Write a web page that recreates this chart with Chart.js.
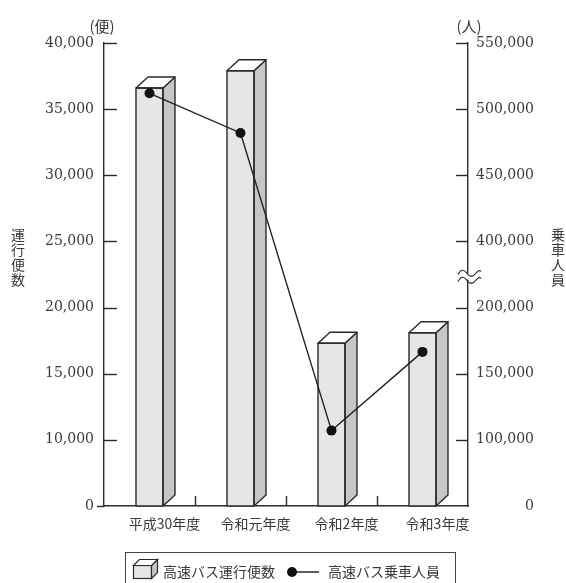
<!DOCTYPE html>
<html>
<head>
<meta charset="utf-8">
<script src="https://cdn.jsdelivr.net/npm/chart.js@4/dist/chart.umd.min.js"></script>
<style>
html,body{margin:0;padding:0;background:#fff;}
#wrap{position:relative;width:566px;height:583px;}
</style>
</head>
<body>
<div id="wrap"><canvas id="c" width="566" height="583"></canvas></div>
<script>
// ---- data ----
const categories = ['平成30年度', '令和元年度', '令和2年度', '令和3年度'];
const busTrips = [36600, 37900, 17300, 18100];          // 高速バス運行便数 (便)
const busRiders = [512000, 482000, 107000, 166500];     // 高速バス乗車人員 (人)
const leftTickValues = [5000, 10000, 15000, 20000, 25000, 30000, 35000, 40000];
const leftTickLabels = ['0', '10,000', '15,000', '20,000', '25,000', '30,000', '35,000', '40,000'];
const rightTickValues = [0, 100000, 150000, 200000, 400000, 450000, 500000, 550000];
const rightTickLabels = ['0', '100,000', '150,000', '200,000', '400,000', '450,000', '500,000', '550,000'];
const seriesNames = ['高速バス運行便数', '高速バス乗車人員'];

// map a rider value onto the broken right axis (index space)
function riderIndex(v) {
  for (let i = 0; i < rightTickValues.length - 1; i++) {
    const a = rightTickValues[i], b = rightTickValues[i + 1];
    if (v >= a && v <= b) return i + (v - a) / (b - a);
  }
  return rightTickValues.length - 1;
}

const INK = '#2a2a2a';
const TXT = '#3a3a3a';
const SERIF = '"DejaVu Serif", serif';
const JP = '"Noto Sans CJK JP", sans-serif';

const decor = {
  id: 'decor',
  afterDatasetDraw(chart, args) {
    if (args.meta.type !== 'bar') return;
    const ctx = chart.ctx;
    const dx = 12, dy = 11;
    ctx.save();
    ctx.lineWidth = 1.4;
    ctx.strokeStyle = INK;
    ctx.lineJoin = 'round';
    args.meta.data.forEach(el => {
      const p = el.getProps(['x', 'y', 'base', 'width'], true);
      const xl = p.x - p.width / 2, xr = p.x + p.width / 2;
      // side
      ctx.beginPath();
      ctx.moveTo(xr, p.y); ctx.lineTo(xr + dx, p.y - dy);
      ctx.lineTo(xr + dx, p.base - dy); ctx.lineTo(xr, p.base); ctx.closePath();
      ctx.fillStyle = '#c6c6c6'; ctx.fill(); ctx.stroke();
      // top
      ctx.beginPath();
      ctx.moveTo(xl, p.y); ctx.lineTo(xl + dx, p.y - dy);
      ctx.lineTo(xr + dx, p.y - dy); ctx.lineTo(xr, p.y); ctx.closePath();
      ctx.fillStyle = '#ffffff'; ctx.fill(); ctx.stroke();
      // front outline
      ctx.strokeRect(xl, p.y, p.width, p.base - p.y);
    });
    ctx.restore();
  },
  afterDraw(chart) {
    const ctx = chart.ctx;
    const ca = chart.chartArea;
    const y = chart.scales.y, y2 = chart.scales.y2, x = chart.scales.x;
    ctx.save();
    ctx.strokeStyle = INK;
    ctx.lineWidth = 1.4;
    // left ticks (inward)
    leftTickValues.forEach(v => {
      const py = Math.round(y.getPixelForValue(v)) + 0.5;
      ctx.beginPath();
      if (v === leftTickValues[0]) { ctx.moveTo(ca.left - 7, py); ctx.lineTo(ca.left, py); }
      else { ctx.moveTo(ca.left, py); ctx.lineTo(ca.left + 13, py); }
      ctx.stroke();
    });
    // right ticks (inward)
    rightTickValues.forEach((v, i) => {
      if (i === 0) return;
      const py = Math.round(y2.getPixelForValue(i)) + 0.5;
      ctx.beginPath(); ctx.moveTo(ca.right - 12, py); ctx.lineTo(ca.right, py); ctx.stroke();
    });
    // x boundary ticks
    for (let i = 0; i < categories.length - 1; i++) {
      const px = Math.round((x.getPixelForValue(i) + x.getPixelForValue(i + 1)) / 2) + 0.5;
      ctx.beginPath(); ctx.moveTo(px, ca.bottom); ctx.lineTo(px, ca.bottom - 10); ctx.stroke();
    }
    // axis break on right axis
    const by = (y2.getPixelForValue(3) + y2.getPixelForValue(4)) / 2 + 2;
    const bx0 = ca.right - 10, bx1 = ca.right + 13;
    ctx.fillStyle = '#fff';
    ctx.fillRect(bx0, by - 3, bx1 - bx0, 6);
    ctx.lineWidth = 1.2;
    [by - 3.5, by + 3.5].forEach(yy => {
      ctx.beginPath();
      ctx.moveTo(bx0, yy + 1.5);
      ctx.bezierCurveTo(bx0 + 3, yy - 4, bx0 + 6, yy - 4, bx0 + 9, yy + 0.5);
      ctx.bezierCurveTo(bx0 + 12, yy + 4.5, bx0 + 15, yy + 4.5, bx0 + 18, yy);
      ctx.bezierCurveTo(bx0 + 20, yy - 2.5, bx0 + 22, yy - 3, bx1, yy - 1.5);
      ctx.stroke();
    });
    // unit labels
    ctx.fillStyle = TXT;
    ctx.font = '15px ' + JP;
    ctx.textAlign = 'center'; ctx.textBaseline = 'middle';
    ctx.fillText('(便)', 102, 26);
    ctx.fillText('(人)', 469, 26);
    // vertical axis titles
    ctx.font = '14px ' + JP;
    const vt = (s, cx, top) => { [...s].forEach((ch, i) => ctx.fillText(ch, cx, top + 7 + i * 15)); };
    vt('運行便数', 18, 228);
    vt('乗車人員', 558, 228);
    // legend
    ctx.lineWidth = 1;
    ctx.strokeStyle = '#444';
    ctx.strokeRect(125.5, 552.5, 330, 32);
    // cube icon
    ctx.lineWidth = 1.2; ctx.strokeStyle = INK;
    const fx = 133.5, fy = 565.5, fw = 18, fh = 13, d = 6;
    ctx.fillStyle = '#e6e6e6'; ctx.fillRect(fx, fy, fw, fh); ctx.strokeRect(fx, fy, fw, fh);
    ctx.beginPath(); ctx.moveTo(fx + fw, fy); ctx.lineTo(fx + fw + d, fy - d); ctx.lineTo(fx + fw + d, fy + fh - d); ctx.lineTo(fx + fw, fy + fh); ctx.closePath();
    ctx.fillStyle = '#c6c6c6'; ctx.fill(); ctx.stroke();
    ctx.beginPath(); ctx.moveTo(fx, fy); ctx.lineTo(fx + d, fy - d); ctx.lineTo(fx + fw + d, fy - d); ctx.lineTo(fx + fw, fy); ctx.closePath();
    ctx.fillStyle = '#fff'; ctx.fill(); ctx.stroke();
    ctx.fillStyle = TXT; ctx.textAlign = 'left'; ctx.textBaseline = 'middle';
    ctx.font = '14px ' + JP;
    ctx.fillText(seriesNames[0], 163, 572);
    // line icon
    ctx.lineWidth = 1.5;
    ctx.beginPath(); ctx.moveTo(292, 572); ctx.lineTo(319, 572); ctx.stroke();
    ctx.beginPath(); ctx.arc(292, 572, 5, 0, Math.PI * 2); ctx.fillStyle = '#111'; ctx.fill();
    ctx.fillStyle = TXT;
    ctx.fillText(seriesNames[1], 328, 572);
    ctx.restore();
  }
};

new Chart(document.getElementById('c'), {
  data: {
    labels: categories,
    datasets: [
      {
        type: 'line', label: seriesNames[1], yAxisID: 'y2', order: 1,
        data: busRiders.map(riderIndex),
        borderColor: '#222', borderWidth: 1.4, tension: 0,
        pointRadius: 5, pointBackgroundColor: '#111', pointBorderColor: '#111', pointBorderWidth: 0
      },
      {
        type: 'bar', label: seriesNames[0], yAxisID: 'y', order: 2,
        data: busTrips, base: leftTickValues[0],
        backgroundColor: '#e6e6e6', borderColor: INK, borderWidth: 0,
        barThickness: 27
      }
    ]
  },
  options: {
    responsive: false, animation: false,
    devicePixelRatio: 1,
    layout: { padding: { top: 43, right: 32, left: 0, bottom: 0 } },
    plugins: { legend: { display: false }, tooltip: { enabled: false } },
    scales: {
      x: {
        type: 'category', offset: true,
        grid: { display: false, drawTicks: false },
        border: { display: true, color: INK, width: 1.4 },
        ticks: { color: TXT, font: { family: JP, size: 14 }, padding: 9, labelOffset: 15, maxRotation: 0, autoSkip: false },
        afterFit(s) { s.height = 77; }
      },
      y: {
        type: 'linear', position: 'left', min: 5000, max: 40000, beginAtZero: false,
        grid: { display: false, drawTicks: false },
        border: { display: true, color: INK, width: 1.4 },
        afterBuildTicks(s) { s.ticks = leftTickValues.map(v => ({ value: v })); },
        ticks: {
          color: TXT, font: { family: SERIF, size: 14 }, padding: 10,
          callback: (v) => leftTickLabels[leftTickValues.indexOf(v)]
        },
        afterFit(s) { s.width = 104; }
      },
      y2: {
        type: 'linear', position: 'right', min: 0, max: rightTickValues.length - 1,
        grid: { display: false, drawTicks: false },
        border: { display: true, color: INK, width: 1.4 },
        afterBuildTicks(s) { s.ticks = rightTickValues.map((v, i) => ({ value: i })); },
        ticks: {
          color: TXT, font: { family: SERIF, size: 14 }, padding: 8, crossAlign: 'far',
          callback: (v) => rightTickLabels[v]
        },
        afterFit(s) { s.width = 66; }
      }
    }
  },
  plugins: [decor]
});
</script>
</body>
</html>
